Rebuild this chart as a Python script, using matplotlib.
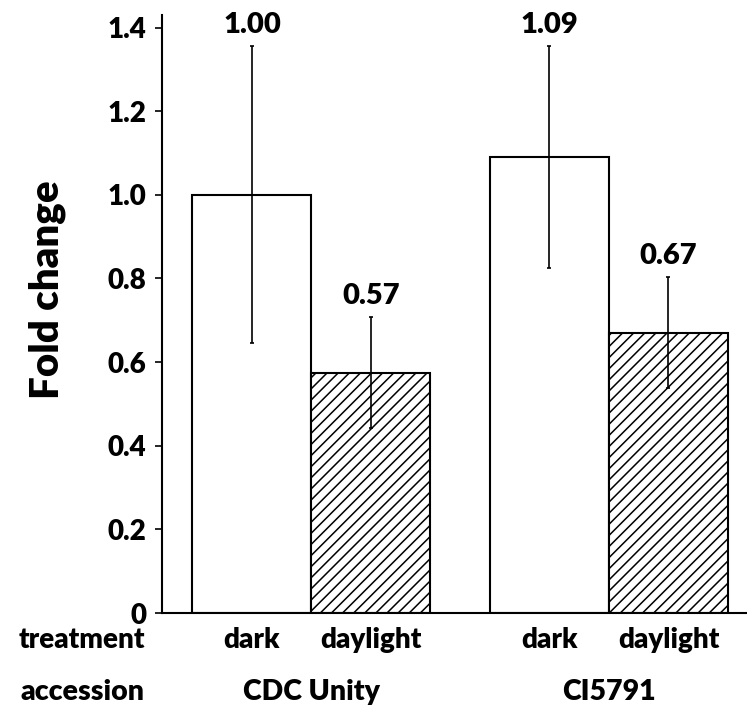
import matplotlib
matplotlib.use("Agg")
import matplotlib.pyplot as plt
import numpy as np

plt.rcParams['font.family'] = ['Lato', 'DejaVu Sans']
plt.rcParams['font.weight'] = 'heavy'
plt.rcParams['hatch.color'] = '#555555'
plt.rcParams['hatch.linewidth'] = 1.1

treatments = ["dark", "daylight", "dark", "daylight"]
accessions = ["CDC Unity", "CI5791"]
values = [1.00, 0.575, 1.09, 0.67]
value_labels = ["1.00", "0.57", "1.09", "0.67"]
errors = [0.355, 0.132, 0.265, 0.133]
hatches = ["", "///", "", "///"]
yticks = [0, 0.2, 0.4, 0.6, 0.8, 1.0, 1.2, 1.4]
ytick_labels = ["0", "0.2", "0.4", "0.6", "0.8", "1.0", "1.2", "1.4"]

x = np.array([0, 1, 2.5, 3.5])
W = 'heavy'

fig = plt.figure(figsize=(7.47, 7.12), dpi=100)
ax = fig.add_axes([162/747, 99/712, 1 - 162/747, (613-15)/712])

for xi, v, e, h in zip(x, values, errors, hatches):
    ax.bar(xi, v, width=1.0, color='white', edgecolor='black', linewidth=1.5,
           hatch=h, zorder=2)
ax.errorbar(x, values, yerr=errors, fmt='none', ecolor='black', elinewidth=1.2,
            capsize=1.5, capthick=1.2, zorder=3)

for xi, v, e, lab in zip(x, values, errors, value_labels):
    ax.annotate(lab, (xi, v + e), xytext=(0, 6), textcoords='offset points',
                ha='center', va='bottom', fontsize=21, fontweight=W)

ax.set_xlim(-0.756, 4.16)
ax.set_ylim(0, 1.43)
ax.set_yticks(yticks)
ax.set_yticklabels(ytick_labels, fontsize=20, fontweight=W)
ax.set_xticks([])
ax.tick_params(axis='y', direction='out', length=5, width=1.2, pad=6)
for s in ['top', 'right']:
    ax.spines[s].set_visible(False)
ax.spines['left'].set_linewidth(1.5)
ax.spines['bottom'].set_linewidth(1.5)

fig.text(47/747, 1 - 290/712, "Fold change", rotation=90, ha='center', va='center',
         fontsize=29, fontweight=W)

tr = ax.get_xaxis_transform()
for xi, t in zip(x, treatments):
    ax.text(xi, -0.045, t, transform=tr, ha='center', va='center',
            fontsize=20, fontweight=W, clip_on=False)
group_centers = [(x[0] + x[1]) / 2, (x[2] + x[3]) / 2]
for gc, a in zip(group_centers, accessions):
    ax.text(gc, -0.132, a, transform=tr, ha='center', va='center',
            fontsize=20.5, fontweight=W, clip_on=False)
ax.text(-0.9, -0.045, "treatment", transform=tr, ha='right', va='center',
        fontsize=20, fontweight=W, clip_on=False)
ax.text(-0.9, -0.132, "accession", transform=tr, ha='right', va='center',
        fontsize=20.5, fontweight=W, clip_on=False)

fig.savefig("out.png", dpi=100)
